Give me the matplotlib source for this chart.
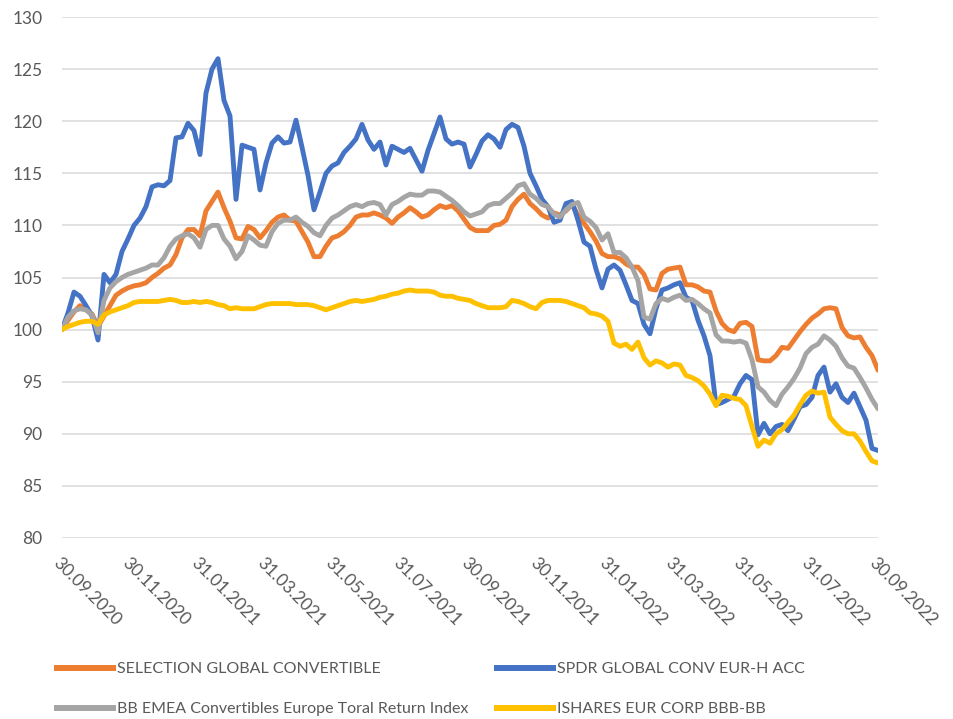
import matplotlib
matplotlib.use("Agg")
import matplotlib.pyplot as plt
import matplotlib.dates as mdates
from matplotlib.lines import Line2D
import pandas as pd

plt.rcParams['font.family'] = ['Lato', 'DejaVu Sans']

start_date = "2020-09-30"
end_date = "2022-09-30"
n_points = 137

tick_dates = ["2020-09-30", "2020-11-30", "2021-01-31", "2021-03-31", "2021-05-31",
              "2021-07-31", "2021-09-30", "2021-11-30", "2022-01-31", "2022-03-31",
              "2022-05-31", "2022-07-31", "2022-09-30"]

series_names = ["SELECTION GLOBAL CONVERTIBLE", "SPDR GLOBAL CONV EUR-H ACC",
                "BB EMEA Convertibles Europe Toral Return Index", "ISHARES EUR CORP BBB-BB"]

selection = [100.0, 100.9, 101.7, 102.3, 101.9, 101.5, 100.3, 101.3, 102.3, 103.3,
             103.7, 104.0, 104.2, 104.3, 104.5, 105.0, 105.4, 105.9, 106.2, 107.2,
             108.8, 109.6, 109.6, 109.0, 111.4, 112.3, 113.2, 111.7, 110.4, 108.8,
             108.7, 109.9, 109.6, 108.8, 109.5, 110.3, 110.8, 111.0, 110.5, 110.4,
             109.4, 108.4, 107.0, 107.0, 108.0, 108.8, 109.0, 109.4, 110.0, 110.8,
             111.0, 111.0, 111.2, 111.0, 110.7, 110.2, 110.8, 111.2, 111.7, 111.3,
             110.8, 111.0, 111.5, 111.9, 111.7, 111.9, 111.4, 110.6, 109.8, 109.5,
             109.5, 109.5, 110.0, 110.1, 110.5, 111.8, 112.5, 113.0, 112.1, 111.6,
             111.0, 110.7, 111.2, 111.0, 111.4, 112.0, 111.0, 110.2, 109.4, 108.5,
             107.3, 107.0, 107.0, 106.8, 106.3, 106.0, 106.0, 105.3, 103.9, 103.8,
             105.4, 105.8, 105.9, 106.0, 104.3, 104.3, 104.1, 103.7, 103.6, 101.8,
             100.6, 100.0, 99.8, 100.6, 100.7, 100.3, 97.1, 97.0, 97.0, 97.5,
             98.3, 98.2, 99.0, 99.8, 100.5, 101.1, 101.5, 102.0, 102.1, 102.0,
             100.2, 99.4, 99.2, 99.3, 98.3, 97.5, 96.1]

spdr = [100.0, 101.6, 103.6, 103.2, 102.3, 101.3, 99.0, 105.3, 104.5, 105.3,
        107.5, 108.7, 110.0, 110.7, 111.8, 113.7, 113.9, 113.8, 114.3, 118.4,
        118.5, 119.8, 119.1, 116.8, 122.7, 125.0, 126.0, 122.0, 120.5, 112.5,
        117.7, 117.5, 117.3, 113.4, 116.0, 117.9, 118.5, 117.9, 118.0, 120.1,
        117.5, 114.8, 111.5, 113.2, 115.0, 115.7, 116.0, 117.0, 117.6, 118.3,
        119.7, 118.2, 117.3, 118.0, 115.8, 117.6, 117.3, 117.0, 117.4, 116.3,
        115.2, 117.2, 118.8, 120.4, 118.3, 117.8, 118.0, 117.8, 115.6, 116.8,
        118.1, 118.7, 118.3, 117.5, 119.2, 119.7, 119.4, 117.6, 115.0, 113.8,
        112.5, 111.8, 110.3, 110.5, 112.1, 112.3, 110.5, 108.4, 108.0, 105.8,
        104.0, 105.8, 106.2, 105.7, 104.3, 102.8, 102.5, 100.5, 99.6, 102.0,
        103.8, 104.0, 104.3, 104.5, 103.1, 102.8, 100.9, 99.4, 97.5, 92.8,
        93.0, 93.3, 93.6, 94.8, 95.6, 95.2, 89.9, 91.0, 90.0, 90.7,
        90.9, 90.3, 91.4, 92.6, 92.8, 93.5, 95.6, 96.4, 94.0, 94.8,
        93.5, 93.0, 93.9, 92.6, 91.3, 88.6, 88.4]

bb_emea = [100.0, 101.2, 101.8, 102.0, 101.9, 101.4, 99.7, 102.8, 104.0, 104.6,
           105.0, 105.3, 105.5, 105.7, 105.9, 106.2, 106.2, 106.9, 108.0, 108.7,
           109.0, 109.2, 108.8, 107.9, 109.6, 110.0, 110.0, 108.7, 108.0, 106.8,
           107.5, 109.0, 108.6, 108.1, 108.0, 109.4, 110.2, 110.5, 110.5, 110.8,
           110.3, 109.9, 109.3, 109.0, 110.0, 110.7, 111.0, 111.4, 111.8, 112.0,
           111.8, 112.1, 112.2, 112.0, 111.0, 112.0, 112.3, 112.7, 113.0, 112.9,
           112.9, 113.3, 113.3, 113.2, 112.8, 112.4, 111.9, 111.3, 110.9, 111.1,
           111.3, 111.9, 112.1, 112.1, 112.6, 113.1, 113.8, 114.0, 113.0, 112.6,
           112.0, 111.8, 111.1, 110.8, 111.5, 112.0, 112.2, 110.8, 110.4, 109.8,
           108.6, 109.2, 107.4, 107.4, 106.9, 106.0, 104.7, 101.2, 101.0, 102.5,
           103.0, 102.8, 103.1, 103.3, 102.8, 102.9, 102.5, 102.0, 101.6, 99.5,
           98.9, 98.9, 98.8, 98.9, 98.7, 97.1, 94.5, 94.0, 93.2, 92.7,
           93.8, 94.5, 95.3, 96.3, 97.7, 98.3, 98.6, 99.4, 99.0, 98.4,
           97.3, 96.5, 96.3, 95.4, 94.4, 93.3, 92.4]

ishares = [100.0, 100.3, 100.5, 100.7, 100.8, 100.8, 100.5, 101.4, 101.7, 101.9,
           102.1, 102.3, 102.6, 102.7, 102.7, 102.7, 102.7, 102.8, 102.9, 102.8,
           102.6, 102.6, 102.7, 102.6, 102.7, 102.6, 102.4, 102.3, 102.0, 102.1,
           102.0, 102.0, 102.0, 102.2, 102.4, 102.5, 102.5, 102.5, 102.5, 102.4,
           102.4, 102.4, 102.3, 102.1, 101.9, 102.1, 102.3, 102.5, 102.7, 102.8,
           102.7, 102.8, 102.9, 103.1, 103.2, 103.4, 103.5, 103.7, 103.8, 103.7,
           103.7, 103.7, 103.6, 103.3, 103.2, 103.2, 103.0, 102.9, 102.8, 102.5,
           102.3, 102.1, 102.1, 102.1, 102.2, 102.8, 102.7, 102.5, 102.2, 102.0,
           102.6, 102.8, 102.8, 102.8, 102.7, 102.5, 102.3, 102.1, 101.6, 101.5,
           101.3, 100.8, 98.7, 98.4, 98.6, 98.1, 98.8, 97.3, 96.6, 97.0,
           96.8, 96.4, 96.7, 96.6, 95.6, 95.4, 95.1, 94.6, 93.8, 92.7,
           93.7, 93.6, 93.4, 93.3, 92.7, 90.7, 88.8, 89.4, 89.1, 90.0,
           90.4, 91.1, 91.8, 92.8, 93.7, 94.1, 93.9, 94.0, 91.6, 90.9,
           90.3, 90.0, 90.0, 89.3, 88.3, 87.4, 87.2]

colors = ["#ED7D31", "#4472C4", "#A5A5A5", "#FFC000"]
text_color = "#595959"

dates = pd.date_range(start_date, end_date, periods=n_points)

fig = plt.figure(figsize=(9.54, 7.19), dpi=100)
ax = fig.add_axes([62/954, 1-538/719, (878-62)/954, (538-17)/719])

for vals, c, name, z in zip([selection, spdr, bb_emea, ishares], colors, series_names, [3, 4, 5, 6]):
    ax.plot(dates, vals, color=c, lw=3.5, label=name, zorder=z,
            solid_joinstyle='round', solid_capstyle='round')

ax.set_xlim(pd.Timestamp(start_date), pd.Timestamp(end_date))
ax.set_ylim(80, 130)
ax.set_yticks(range(80, 131, 5))
ax.set_xticks(pd.to_datetime(tick_dates))
ax.xaxis.set_major_formatter(mdates.DateFormatter("%d.%m.%Y"))

for s in ax.spines.values():
    s.set_visible(False)
ax.grid(axis='y', color='#D9D9D9', lw=1.1, zorder=0)
ax.set_axisbelow(True)
ax.tick_params(axis='both', length=0, colors=text_color, labelsize=12.5)
ax.tick_params(axis='y', pad=14)
ax.tick_params(axis='x', pad=12)
for lab in ax.get_xticklabels():
    lab.set_rotation(-45)
    lab.set_ha('left')
    lab.set_va('top')
    lab.set_rotation_mode('anchor')

leg_kw = dict(frameon=False, fontsize=11.5, handlelength=3.5, handletextpad=0.28,
              labelspacing=1.62, borderpad=0, borderaxespad=0, labelcolor=text_color)
h1 = [Line2D([], [], color=colors[0], lw=4.3), Line2D([], [], color=colors[2], lw=4.3)]
h2 = [Line2D([], [], color=colors[1], lw=4.3), Line2D([], [], color=colors[3], lw=4.3)]
fig.legend(h1, [series_names[0], series_names[2]], loc='upper left',
           bbox_to_anchor=(57/954, 1-662/719), **leg_kw)
fig.legend(h2, [series_names[1], series_names[3]], loc='upper left',
           bbox_to_anchor=(497/954, 1-662/719), **leg_kw)

fig.savefig("out.png", dpi=100)
